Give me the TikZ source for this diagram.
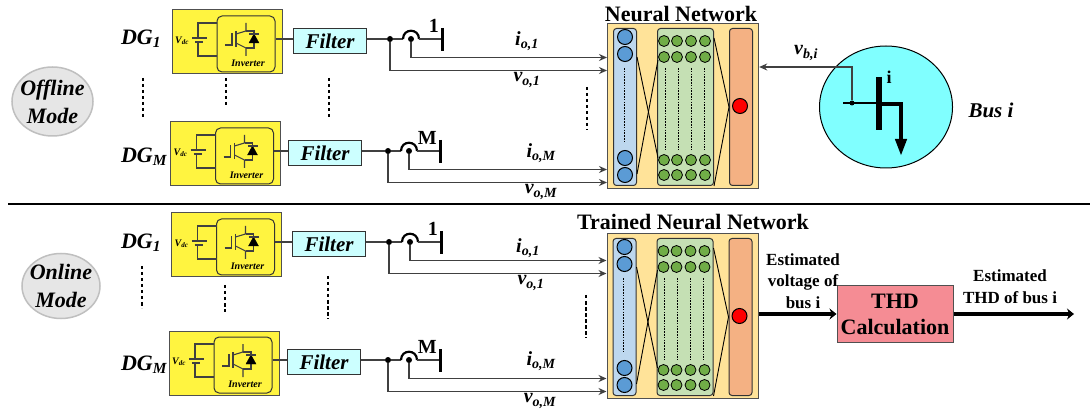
\documentclass[tikz,border=0pt]{standalone}
\usepackage{fontspec}
\setmainfont{Liberation Serif}
\usepackage{tikz}
\usetikzlibrary{calc}
\usetikzlibrary{shapes}
\usetikzlibrary{arrows.meta}
\definecolor{dgyellow}{HTML}{FFF440}
\definecolor{fltcyan}{HTML}{CCFFFF}
\definecolor{nnback}{HTML}{FFE399}
\definecolor{nnblue}{HTML}{BDD7EE}
\definecolor{nngreen}{HTML}{C5E0B4}
\definecolor{nnorange}{HTML}{F4B183}
\definecolor{cblue}{HTML}{5B9BD5}
\definecolor{cgreen}{HTML}{70AD47}
\definecolor{buscyan}{HTML}{80FFFF}
\definecolor{thdred}{HTML}{F58C94}
\definecolor{modegray}{HTML}{E6E6E6}
\definecolor{edgegray}{HTML}{505050}
\newcommand{\fsz}[1]{\fontsize{#1}{#1}\selectfont}
\tikzset{
  wire/.style={draw=black!75, line width=1.1pt},
  sigarrow/.style={wire, -{Stealth[length=8pt,width=7pt]}},
  fatarrow/.style={draw=black, line width=4.5pt, -{Stealth[length=7pt,width=11pt]}},
  jdot/.style={circle, fill=black, inner sep=0pt, minimum size=6pt},
  dgbox/.style={draw=edgegray, line width=1pt, fill=dgyellow, minimum width=110pt, minimum height=64pt, inner sep=0pt},
  invbox/.style={draw=black!80, line width=1pt, rounded corners=5pt, minimum width=58pt, minimum height=56pt, inner sep=0pt},
  fltbox/.style={draw=black!80, line width=1pt, fill=fltcyan, minimum width=73pt, minimum height=24.5pt, inner sep=0pt, font=\fsz{21}\bfseries\itshape},
  nnbox/.style={draw=edgegray, line width=1.2pt, fill=nnback, minimum width=151pt, minimum height=165pt, inner sep=0pt},
  layerbox/.style={draw=black!80, line width=1pt, rounded corners=3pt, minimum height=157pt, inner sep=0pt},
  modeball/.style={ellipse, draw=black!25, line width=1.5pt, fill=modegray, inner sep=0pt},
  modetext/.style={inner sep=0pt, align=center, font=\fsz{22}\bfseries\itshape},
  dotcol/.style={line width=2.5pt, dash pattern=on 3.5pt off 2.5pt},
  fine/.style={line width=.8pt, dash pattern=on 1.6pt off 1.2pt},
  lbl/.style={inner sep=0pt, font=\fsz{20}\bfseries\itshape},
  dglbl/.style={inner sep=0pt, font=\fsz{22}\bfseries\itshape},
  boldlbl/.style={inner sep=0pt, align=center, font=\fsz{17}\bfseries}
}
% one DG: name, box left, box top, filter left, junction x, hump x, bus label
\newcommand{\dgunit}[7]{
  \node[dgbox] (#1box) at ({#2+55},{#3+32}) {};
  \node[invbox] (#1inv) at ({#2+74},{#3+34}) {};
  \begin{scope}[shift={(#2,#3)}]
    \draw[wire] (45,13) -- (26,13) -- (26,28);
    \draw[wire] (20,28) -- (35,28);
    \draw[wire] (23,32) -- (31,32);
    \draw[wire] (26,32) -- (26,46) -- (45,46);
    \node[inner sep=0pt, font=\fsz{10}\bfseries\itshape] (#1vdc) at (10,31) {V\textsubscript{dc}};
    \draw[wire] (53,35) -- (60,35) -- (60,23);
    \draw[wire] (64,21) -- (64,37);
    \draw[wire] (64,24) -- (74,21) -- (74,13);
    \draw[wire] (74,21) -- (82,21) -- (82,38) -- (74,38);
    \draw[wire] (64,33) -- (74,38) -- (74,46);
    \draw[fill=black] (77,33) -- (87,33) -- (82,24) -- cycle;
    \draw[wire] (77,24) -- (87,24);
    \node[inner sep=0pt, font=\fsz{10}\bfseries\itshape] (#1invt) at (76,53) {Inverter};
  \end{scope}
  \node[jdot] (#1dot) at (#5,{#3+29}) {};
  \node[fltbox, anchor=west] (#1flt) at (#4,{#3+31}) {Filter};
  \coordinate (#1hump) at (#6,{#3+29});
  \coordinate (#1bar) at ({#6+31},{#3+29});
  \draw[wire] (#1inv.east |- #1dot) -- (#1flt.west |- #1dot);
  \draw[wire] (#1flt.east |- #1dot) -- (#1dot);
  \draw[wire] (#1dot) -- ({#6-8},{#3+29});
  \draw[line width=2.2pt] ({#6-8},{#3+29}) .. controls ({#6-8},{#3+18}) and ({#6+8},{#3+18}) .. ({#6+8},{#3+29});
  \draw[wire] ({#6+8},{#3+29}) -- (#1bar);
  \node[jdot] (#1tap) at (#1hump) {};
  \draw[line width=3pt] ({#6+31},{#3+18}) -- ({#6+31},{#3+41});
  \node[inner sep=0pt, anchor=east, font=\fsz{20}\bfseries] (#1num) at ({#6+28},{#3+16}) {#7};
}
% the two wires from a DG to the network
\newcommand{\dgwires}[2]{
  \draw[sigarrow] (#1tap) |- ($(#2.west |- #1tap)+(0,18.5)$);
  \draw[sigarrow] (#1dot) |- ($(#2.west |- #1dot)+(0,31.5)$);
}
% network block, x and y are the top left corner
\newcommand{\nnblock}[3]{
  \node[nnbox, anchor=north west] (#1) at (#2,#3) {};
  \begin{scope}[shift={(#2,#3)}]
    \node[layerbox, fill=nnblue, minimum width=23pt, anchor=north west] (#1blue) at (6,5) {};
    \node[layerbox, fill=nngreen, minimum width=56pt, anchor=north west] (#1green) at (50,5) {};
    \node[layerbox, fill=nnorange, minimum width=23pt, anchor=north west] (#1out) at (122,5) {};
    % input layer
    \draw[fill=cblue, line width=1pt] (18,14) circle (7.5pt);
    \draw[fill=cblue, line width=1pt] (18,31) circle (7.5pt);
    \draw[fill=cblue, line width=1pt] (18,135) circle (7.5pt);
    \draw[fill=cblue, line width=1pt] (18,152) circle (7.5pt);
    \draw[fine] (17,45) -- (17,119);
    % hidden layers
    \draw[fill=cgreen, line width=.8pt] (57,18) circle (5.5pt);
    \draw[fill=cgreen, line width=.8pt] (70,18) circle (5.5pt);
    \draw[fill=cgreen, line width=.8pt] (84,18) circle (5.5pt);
    \draw[fill=cgreen, line width=.8pt] (98,18) circle (5.5pt);
    \draw[fill=cgreen, line width=.8pt] (57,34) circle (5.5pt);
    \draw[fill=cgreen, line width=.8pt] (70,34) circle (5.5pt);
    \draw[fill=cgreen, line width=.8pt] (84,34) circle (5.5pt);
    \draw[fill=cgreen, line width=.8pt] (98,34) circle (5.5pt);
    \draw[fill=cgreen, line width=.8pt] (57,137) circle (5.5pt);
    \draw[fill=cgreen, line width=.8pt] (70,137) circle (5.5pt);
    \draw[fill=cgreen, line width=.8pt] (84,137) circle (5.5pt);
    \draw[fill=cgreen, line width=.8pt] (98,137) circle (5.5pt);
    \draw[fill=cgreen, line width=.8pt] (57,152) circle (5.5pt);
    \draw[fill=cgreen, line width=.8pt] (70,152) circle (5.5pt);
    \draw[fill=cgreen, line width=.8pt] (84,152) circle (5.5pt);
    \draw[fill=cgreen, line width=.8pt] (98,152) circle (5.5pt);
    \draw[fine] (58,45) -- (58,127);
    \draw[fine] (71,45) -- (71,127);
    \draw[fine] (84,45) -- (84,127);
    \draw[fine] (97,45) -- (97,127);
    % output
    \draw[fill=red, line width=1pt] (133,83) circle (7.5pt);
  \end{scope}
  \draw[line width=.9pt] ($(#1blue.north east)+(0,29)$) -- ($(#1green.south west)+(1,-28)$);
  \draw[line width=.9pt] ($(#1blue.south east)+(0,-12)$) -- ($(#1green.north west)+(1,32)$);
  \draw[line width=.9pt] ($(#1green.north east)+(0,10)$) -- (#1out.west);
  \draw[line width=.9pt] (#1green.south east) -- (#1out.west);
}
\begin{document}
\begin{tikzpicture}[x=1pt,y=-1pt]
        \useasboundingbox (0,0) rectangle (1091,411);
        \fill[white] (0,0) rectangle (1091,411);

        % networks
        \nnblock{nna}{607}{23}
        \nnblock{nnb}{606.5}{233}
        \node[inner sep=0pt, font=\fsz{22}\bfseries] (nnatitle) at (681,14) {Neural Network};
        \node[inner sep=0pt, font=\fsz{22}\bfseries] (nnbtitle) at (693,222) {Trained Neural Network};

        % offline row
        \dgunit{da}{172}{10}{293}{390}{411}{1}
        \dgunit{db}{170.5}{122}{288}{388}{409}{M}
        \dgwires{da}{nna}
        \dgwires{db}{nna}
        % online row
        \dgunit{dc}{171.5}{213}{292}{389}{410}{1}
        \dgunit{dd}{169}{331}{287}{388}{409}{M}
        \dgwires{dc}{nnb}
        \dgwires{dd}{nnb}

        % DG labels
        \node[dglbl] (dgone) at (141,39) {DG\textsubscript{1}};
        \node[dglbl] (dgm) at (144,157) {DG\textsubscript{M}};
        \node[dglbl] (dgonb) at (141,243) {DG\textsubscript{1}};
        \node[dglbl] (dgmb) at (144,365) {DG\textsubscript{M}};

        % wire labels
        \node[lbl] (ioa) at (527,41) {i\textsubscript{o,1}};
        \node[lbl] (voa) at (527,80) {v\textsubscript{o,1}};
        \node[lbl] (iob) at (541,153) {i\textsubscript{o,M}};
        \node[lbl] (vob) at (541,192) {v\textsubscript{o,M}};
        \node[lbl] (ioc) at (528,248) {i\textsubscript{o,1}};
        \node[lbl] (voc) at (531,283) {v\textsubscript{o,1}};
        \node[lbl] (iod) at (541,361) {i\textsubscript{o,M}};
        \node[lbl] (vod) at (540,401) {v\textsubscript{o,M}};
        \node[lbl] (vbus) at (806,53) {v\textsubscript{b,i}};

        % dots between rows
        \draw[dotcol] (143,78) -- (143,120);
        \draw[dotcol] (226,78) -- (226,105);
        \draw[dotcol] (329,78) -- (329,120);
        \draw[dotcol] (587,87) -- (587,130);
        \draw[dotcol] (142,266) -- (142,308);
        \draw[dotcol] (225,285) -- (225,312);
        \draw[dotcol] (328,276) -- (328,319);
        \draw[dotcol] (586,295) -- (586,338);

        % modes
        \node[modeball, minimum width=81pt, minimum height=69pt] (offmode) at (52.5,101.5) {};
        \node[modetext] (offtext) at (offmode) {Offline\\[6pt]Mode};
        \node[modeball, minimum width=78pt, minimum height=65pt] (onmode) at (61,286) {};
        \node[modetext] (ontext) at (onmode) {Online\\[6pt]Mode};

        % divider
        \draw[line width=2pt] (8,204) -- (1090,204);

        % bus
        \node[ellipse, draw=black, line width=1pt, fill=buscyan, minimum width=133pt, minimum height=122pt, inner sep=0pt] (buscirc) at (886,107) {};
        \node[jdot, minimum size=5pt] (bustap) at (852,103) {};
        \coordinate (busstub) at (843,103);
        \coordinate (busbar) at (879,103);
        \draw[line width=1.3pt] (busstub) -- (busbar);
        \draw[sigarrow] (bustap) |- (nna.east |- 0,67);
        \draw[line width=6pt] (879,77) -- (879,130);
        \draw[line width=4pt, -{Stealth[length=17pt,width=11pt,inset=0pt]}] (882,104) -- (901,104) -- (901,156);
        \node[inner sep=0pt, font=\fsz{18}\bfseries] (busnum) at (889,77) {i};
        \node[inner sep=0pt, font=\fsz{21}\bfseries\itshape] (busname) at (991,110) {Bus i};

        % thd
        \node[draw=edgegray, line width=1pt, fill=thdred, minimum width=116pt, minimum height=56pt, inner sep=0pt, align=center, font=\fsz{22}\bfseries] (thd) at (895,314) {THD\\[4pt]Calculation};
        \coordinate (thdend) at (1074,314);
        \draw[fatarrow] (nnb.east |- thd) -- (thd.west);
        \draw[fatarrow] (thd.east) -- (thdend);
        \node[boldlbl] (estv) at (803,281) {Estimated\\[4.5pt]voltage of\\[4.5pt]bus i};
        \node[boldlbl] (estt) at (1010,286.5) {Estimated\\[4.5pt]THD of bus i};
\end{tikzpicture}
\end{document}
